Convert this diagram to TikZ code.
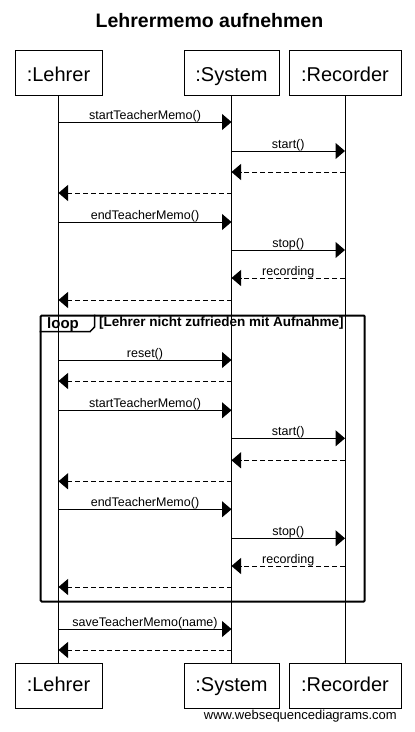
\documentclass[tikz,border=0pt]{standalone}
\usepackage{fontspec}
\setmainfont{Liberation Sans}
\usetikzlibrary{arrows.meta}
\begin{document}
\begin{tikzpicture}[x=1pt,y=-1pt,
  actor/.style={draw, line width=1pt, minimum width=#1, minimum height=45pt, inner sep=0pt, font=\fontsize{20}{24}\selectfont},
  topactor/.style={actor=#1, text height=20pt, text depth=1.6pt},
  botactor/.style={actor=#1, text height=16pt, text depth=4.6pt},
  life/.style={line width=1pt},
  msg/.style={line width=1pt, -{Triangle[length=9.5pt,width=16pt]}},
  ret/.style={msg, dash pattern=on 5pt off 3pt},
  lbl/.style={font=\fontsize{12.5}{14}\selectfont, anchor=base, inner sep=0pt, yshift=2.5pt},
  loopframe/.style={draw, line width=2pt, rounded corners=1pt, minimum width=324pt, minimum height=286pt, anchor=north west, inner sep=0pt},
]
\useasboundingbox (0,0) rectangle (415,732);
\fill[white] (0,0) rectangle (415,732);
\node[font=\bfseries\fontsize{19.5}{22}\selectfont, anchor=base] (title) at (209.5,27.3) {Lehrermemo aufnehmen};

\node[topactor=87pt] (lt) at (58.5,72.5) {:Lehrer};
\node[topactor=95pt] (st) at (231.5,72.5) {:System};
\node[topactor=112pt] (rt) at (345,72.5) {:Recorder};
\node[botactor=87pt] (lb) at (58.5,686) {:Lehrer};
\node[botactor=95pt] (sb) at (231.5,686) {:System};
\node[botactor=112pt] (rb) at (345,686) {:Recorder};

\draw[life] (lt.south) -- (lb.north);
\draw[life] (st.south) -- (sb.north);
\draw[life] (rt.south) -- (rb.north);

% first recording
\draw[msg] (lt |- 0,122) -- node[lbl]{startTeacherMemo()} (st |- 0,122);
\draw[msg] (st |- 0,151) -- node[lbl]{start()} (rt |- 0,151);
\draw[ret] (rt |- 0,172) -- (st |- 0,172);
\draw[ret] (st |- 0,193) -- (lt |- 0,193);
\draw[msg] (lt |- 0,222) -- node[lbl]{endTeacherMemo()} (st |- 0,222);
\draw[msg] (st |- 0,250) -- node[lbl]{stop()} (rt |- 0,250);
\draw[ret] (rt |- 0,278) -- node[lbl]{recording} (st |- 0,278);
\draw[ret] (st |- 0,300) -- (lt |- 0,300);

% loop frame
\node[loopframe] (loop) at (39.7,314.5) {};
\coordinate (tabA) at (39.7,331.7);
\coordinate (tabB) at (90,331.7);
\coordinate (tabC) at (94.5,327);
\coordinate (tabD) at (94.5,314.5);
\draw[line width=1.5pt] (tabA) -- (tabB) -- (tabC) -- (tabD);
\node[font=\bfseries\fontsize{15}{17}\selectfont, anchor=base west, inner sep=0pt] (looplbl) at (47,328) {loop};
\node[font=\bfseries\fontsize{13.5}{15}\selectfont, anchor=base west, inner sep=0pt] (cond) at (99,326) {[Lehrer nicht zufrieden mit Aufnahme]};

\draw[msg] (lt |- 0,360) -- node[lbl]{reset()} (st |- 0,360);
\draw[ret] (st |- 0,381) -- (lt |- 0,381);
\draw[msg] (lt |- 0,410.3) -- node[lbl]{startTeacherMemo()} (st |- 0,410.3);
\draw[msg] (st |- 0,438.3) -- node[lbl]{start()} (rt |- 0,438.3);
\draw[ret] (rt |- 0,460.3) -- (st |- 0,460.3);
\draw[ret] (st |- 0,481.3) -- (lt |- 0,481.3);
\draw[msg] (lt |- 0,509.3) -- node[lbl]{endTeacherMemo()} (st |- 0,509.3);
\draw[msg] (st |- 0,538.3) -- node[lbl]{stop()} (rt |- 0,538.3);
\draw[ret] (rt |- 0,566) -- node[lbl]{recording} (st |- 0,566);
\draw[ret] (st |- 0,587) -- (lt |- 0,587);

% after loop
\draw[msg] (lt |- 0,629) -- node[lbl]{saveTeacherMemo(name)} (st |- 0,629);
\draw[ret] (st |- 0,650) -- (lt |- 0,650);

\node[font=\fontsize{13}{15}\selectfont, anchor=base east, inner sep=0pt] (wm) at (397,719.3) {www.websequencediagrams.com};
\end{tikzpicture}
\end{document}
